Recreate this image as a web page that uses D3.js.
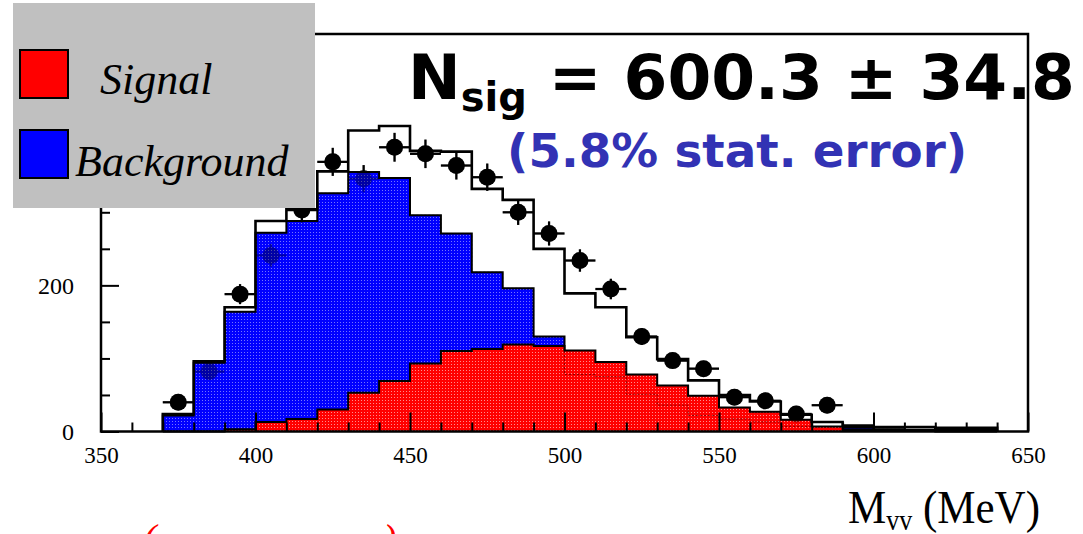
<!DOCTYPE html>
<html>
<head>
<meta charset="utf-8">
<script src="https://cdn.jsdelivr.net/npm/d3@7"></script>
<style>
  body { margin: 0; background: #fff; }
  svg { display: block; }
</style>
</head>
<body>
<svg id="chart" width="1083" height="534"></svg>
<script>
// Histogram bins: 10 MeV wide, lower edges
const binLow = [370,380,390,400,410,420,430,440,450,460,470,480,490,500,510,520,530,540,550,560,570,580,590,600,610,620,630];
const binWidth = 10;
// Fit total (signal + background)
const totalFit = [24,96,170,288,304,356,412,418,384,383,332,317,250,189,170,129,99,70,50,41,23,13,8,6,6,5,5];
// Background component
const background = [22,94,164,272,288,326,355,347,296,271,218,196,130,78,75,51,36,22,17,13,7,6,5,3,2,2,2];
// Signal component
const signal = [0,0,3,13,17,30,53,69,93,110,113,119,117,111,95,78,63,49,33,27,16,7,2,1,1,0,0];

// Data points at bin centres, with their statistical errors
const dataCenters = [375,385,395,405,415,425,435,445,455,465,475,485,495,505,515,525,535,545,555,565,575,585];
const dataCounts  = [40,82,188,241,303,369,346,389,380,364,348,300,271,234,195,130,97,86,47,42,24,36];
const dataErrors  = [6.3,9.1,13.7,15.5,17.4,19.2,18.6,19.7,19.5,19.1,18.7,17.3,16.5,15.3,14,11.4,9.8,9.3,6.9,6.5,4.9,6];

// Axis ticks
const xMajorTicks = [350,400,450,500,550,600,650];
const xMinorTicks = d3.range(360, 650, 10).filter(v => v % 50 !== 0);
const yMajorTicks = [0,200,400];
const yMinorTicks = [50,100,150,250,300,350,450,500];

const legendLabels = ["Signal", "Background"];
const legendColors = ["#ff0000", "#0000ff"];

const svg = d3.select("#chart");
const x = d3.scaleLinear().domain([350, 650]).range([101, 1028]);
const y = d3.scaleLinear().domain([0, 544]).range([431.5, 34]);

// Dotted fill patterns
const defs = svg.append("defs");
function dotPattern(id, color, dotOpacity) {
  const p = defs.append("pattern").attr("id", id)
    .attr("patternUnits", "userSpaceOnUse").attr("width", 3).attr("height", 3);
  p.append("rect").attr("width", 3).attr("height", 3).attr("fill", color);
  p.append("rect").attr("x", 1).attr("y", 1).attr("width", 1).attr("height", 1)
    .attr("fill", "#fff").attr("opacity", dotOpacity);
}
dotPattern("dotRed", "#ff0000", 0.55);
dotPattern("dotBlue", "#0000ff", 0.45);

function binPoints(vals) {
  const pts = vals.map((v, i) => [binLow[i], v]);
  pts.push([binLow[binLow.length - 1] + binWidth, vals[vals.length - 1]]);
  return pts;
}
const area = d3.area().curve(d3.curveStepAfter)
  .x(d => x(d[0])).y0(y(0)).y1(d => y(d[1]));
const outline = d3.line().curve(d3.curveStepAfter)
  .x(d => x(d[0])).y(d => y(d[1]));
function outlinePoints(vals) {
  const pts = binPoints(vals);
  return [[binLow[0], 0], ...pts, [pts[pts.length - 1][0], 0]];
}

function drawPoints(g) {
  dataCenters.forEach((c, i) => {
    const v = dataCounts[i], e = dataErrors[i];
    g.append("line").attr("x1", x(c - 5)).attr("x2", x(c + 5))
      .attr("y1", y(v)).attr("y2", y(v)).attr("stroke", "#000").attr("stroke-width", 2.2);
    g.append("line").attr("x1", x(c)).attr("x2", x(c))
      .attr("y1", y(v - e)).attr("y2", y(v + e)).attr("stroke", "#000").attr("stroke-width", 2.2);
    g.append("circle").attr("cx", x(c)).attr("cy", y(v)).attr("r", 8.5).attr("fill", "#000");
  });
}
// Data points (drawn under the fills)
drawPoints(svg.append("g").attr("class", "data"));

// Background histogram
svg.append("path").datum(binPoints(background)).attr("d", area)
  .attr("fill", "url(#dotBlue)");
svg.append("path").datum(outlinePoints(background)).attr("d", outline)
  .attr("fill", "none").attr("stroke", "#000").attr("stroke-width", 2);

// Signal histogram
svg.append("path").datum(binPoints(signal)).attr("d", area)
  .attr("fill", "url(#dotRed)");
// background outline faintly visible through the signal fill
svg.append("path").datum(outlinePoints(background)).attr("d", outline)
  .attr("fill", "none").attr("stroke", "#000").attr("stroke-width", 1)
  .attr("stroke-dasharray", "2,2").attr("opacity", 0.45);
svg.append("path").datum(outlinePoints(signal)).attr("d", outline)
  .attr("fill", "none").attr("stroke", "#000").attr("stroke-width", 2);

// Data points show through the fills as darker shading
drawPoints(svg.append("g").attr("class", "data-shade").attr("opacity", 0.35));

// Total fit
svg.append("path").datum(outlinePoints(totalFit)).attr("d", outline)
  .attr("fill", "none").attr("stroke", "#000").attr("stroke-width", 2.6);

// Axes with inward ticks
const axisFont = "'Liberation Serif','Times New Roman',serif";
const gx = svg.append("g").attr("transform", `translate(0,${y(0)})`);
gx.call(d3.axisBottom(x).tickValues(xMinorTicks).tickSize(-9).tickFormat(""));
gx.call(g => g.select(".domain").remove());
const gx2 = svg.append("g").attr("transform", `translate(0,${y(0)})`);
gx2.call(d3.axisBottom(x).tickValues(xMajorTicks).tickSize(-19).tickPadding(15).tickFormat(d3.format("d")));
gx2.call(g => g.select(".domain").remove());
gx2.selectAll("text").attr("font-family", axisFont).attr("font-size", 23).attr("fill", "#000");

const gy = svg.append("g").attr("transform", `translate(${x(350)},0)`);
gy.call(d3.axisLeft(y).tickValues(yMinorTicks).tickSize(-9).tickFormat(""));
gy.call(g => g.select(".domain").remove());
const gy2 = svg.append("g").attr("transform", `translate(${x(350)},0)`);
gy2.call(d3.axisLeft(y).tickValues(yMajorTicks).tickSize(-18).tickPadding(27).tickFormat(d3.format("d")));
gy2.call(g => g.select(".domain").remove());
gy2.selectAll("text").attr("font-family", axisFont).attr("font-size", 24).attr("fill", "#000");
svg.selectAll(".tick line").attr("stroke", "#000").attr("stroke-width", 2);

// Frame
svg.append("rect").attr("x", x(350)).attr("y", y(544))
  .attr("width", x(650) - x(350)).attr("height", y(0) - y(544))
  .attr("fill", "none").attr("stroke", "#000").attr("stroke-width", 2.5);

// Axis title
const xt = svg.append("text").attr("transform", "translate(848,523) scale(1,1.1)")
  .attr("font-family", axisFont).attr("font-size", 43).attr("fill", "#000");
xt.append("tspan").text("M");
xt.append("tspan").attr("font-size", 26).attr("dy", 6).text("vv");
xt.append("tspan").attr("dy", -6).text(" (MeV)");

// Fit result
const ns = svg.append("text").attr("x", 408).attr("y", 99)
  .attr("font-family", "'DejaVu Sans',sans-serif").attr("font-weight", "bold")
  .attr("font-size", 63).attr("fill", "#000");
ns.append("tspan").text("N");
ns.append("tspan").attr("font-size", 40).attr("dy", 12).text("sig");
ns.append("tspan").attr("dy", -12).text(" = 600.3 \u00b1 34.8");

svg.append("text").attr("x", 507).attr("y", 167)
  .attr("font-family", "'DejaVu Sans',sans-serif").attr("font-weight", "bold")
  .attr("font-size", 46.8).attr("fill", "#3232b4")
  .text("(5.8% stat. error)");

// Legend
const lg = svg.append("g");
lg.append("rect").attr("x", 13).attr("y", 3).attr("width", 302).attr("height", 205).attr("fill", "#c0c0c0");
const legendY = [50, 130];
const legendTextX = [100, 75];
const legendBase = [94, 176];
legendLabels.forEach((lab, i) => {
  lg.append("rect").attr("x", 20).attr("y", legendY[i]).attr("width", 48).attr("height", 48)
    .attr("fill", legendColors[i]).attr("stroke", "#000").attr("stroke-width", 2);
  lg.append("text").attr("x", legendTextX[i]).attr("y", legendBase[i])
    .attr("font-family", axisFont).attr("font-style", "italic").attr("font-size", 44)
    .attr("fill", "#000").text(lab);
});

// Red caption below the plot
svg.append("text").attr("x", 143).attr("y", 552).attr("font-family", axisFont)
  .attr("font-style", "italic").attr("font-size", 40).attr("fill", "#ff0000").text("(");
svg.append("text").attr("x", 383).attr("y", 552).attr("font-family", axisFont)
  .attr("font-style", "italic").attr("font-size", 40).attr("fill", "#ff0000").text(")");
</script>
</body>
</html>
